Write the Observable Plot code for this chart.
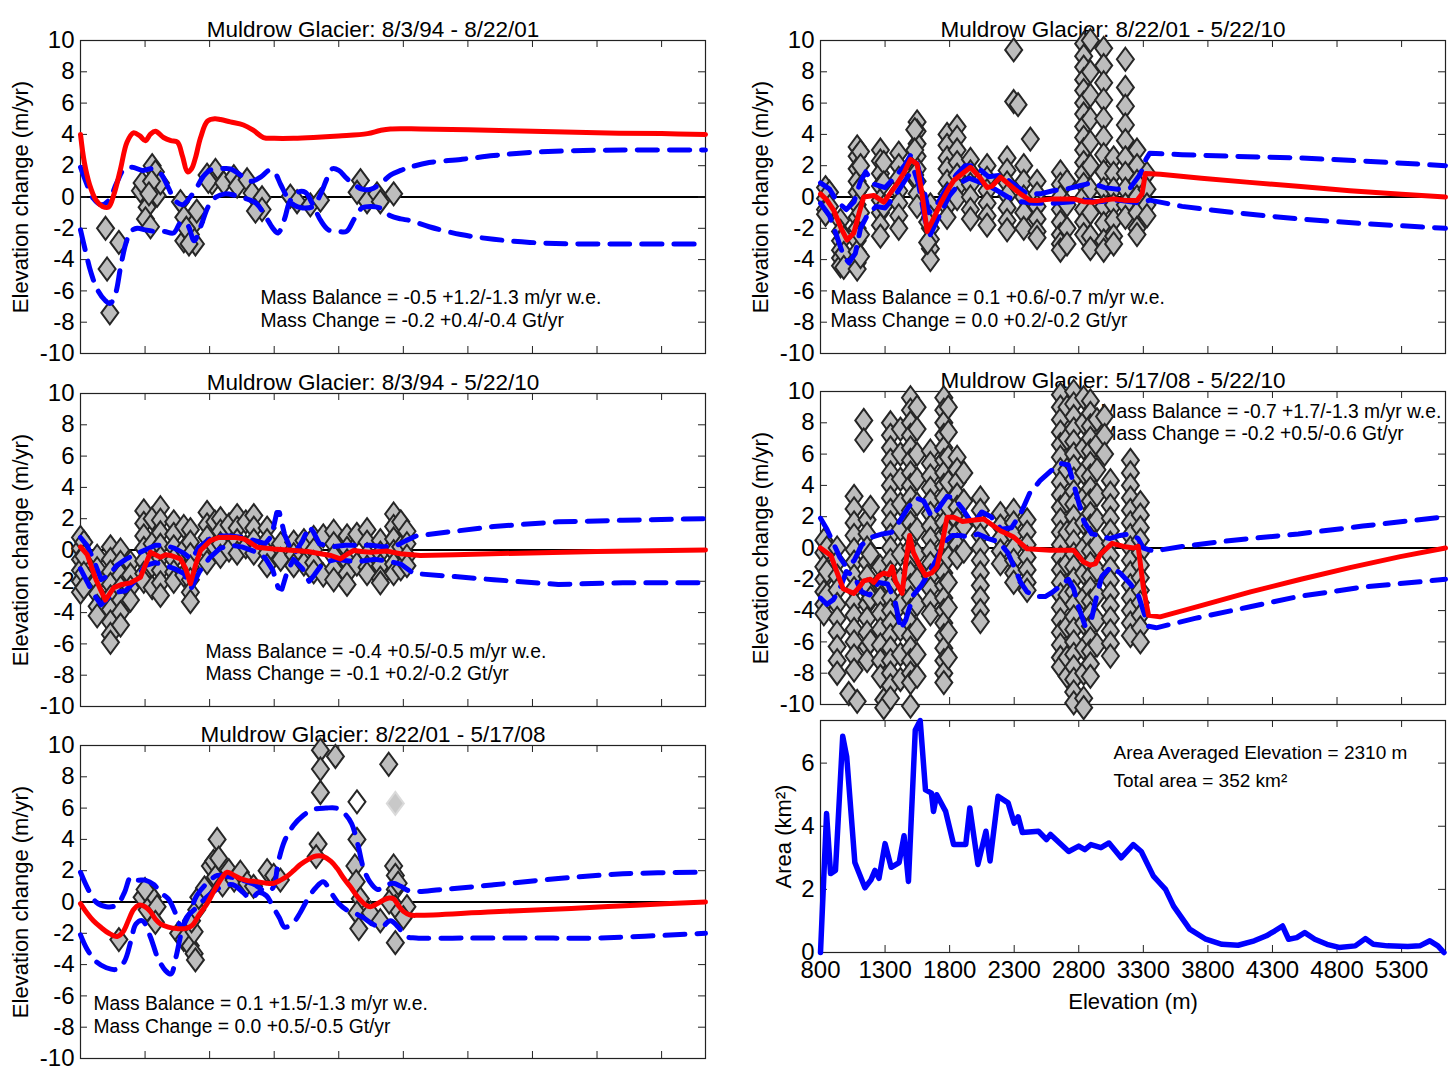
<!DOCTYPE html>
<html>
<head>
<meta charset="utf-8">
<script src="https://cdn.jsdelivr.net/npm/d3@7"></script>
<script src="https://cdn.jsdelivr.net/npm/@observablehq/plot@0.6"></script>
<style>
  html, body { margin: 0; padding: 0; background: #fff; overflow: hidden; }
  #fig { position: relative; width: 1456px; height: 1069px; }
  #fig svg { position: absolute; overflow: visible; }
</style>
</head>
<body>
<div id="fig"></div>
<script>
// ---------- axes ----------
const elevationTicks = [800, 1300, 1800, 2300, 2800, 3300, 3800, 4300, 4800, 5300];
const changeTicks = [-10, -8, -6, -4, -2, 0, 2, 4, 6, 8, 10];
const areaTicks = [0, 2, 4, 6];

// ---------- 8/3/94 - 8/22/01 ----------
const title1 = "Muldrow Glacier: 8/3/94 - 8/22/01";
const note1 = "Mass Balance = -0.5 +1.2/-1.3 m/yr w.e.\nMass Change = -0.2 +0.4/-0.4 Gt/yr";
const points1 = [[994,-2.0],[1097,-2.9],[1006,-4.6],[1027,-7.4],[1264,0.4],[1355,2.0],[1380,1.6],[1393,0.1],
  [1316,-0.65],[1303,-1.4],[1342,-1.9],[1277,0.9],[1419,0.9],[1350,1.0],[1330,0.2],[1574,-0.3],[1600,-1.3],
  [1690,-1.6],[1600,-2.8],[1690,-3.0],[1651,-2.4],[1620,-2.0],[1640,-3.0],[1700,-0.9],[1780,1.4],[1845,1.7],
  [1819,0.9],[1790,1.0],[1909,0.9],[1987,1.3],[2013,0.7],[2090,1.1],[2129,0.25],[2206,-0.05],[2206,-0.8],
  [2155,-0.9],[2425,0.05],[2477,-0.3],[2580,-0.5],[2658,-0.2],[2968,1.05],[2942,0.3],[3019,-0.3],[3096,0.2],
  [3122,-0.3],[3225,0.2]];
const mean1 = [[800,4.0],[830,2.2],[870,0.8],[920,-0.2],[970,-0.6],[1017,-0.65],[1060,0.2],[1110,1.8],[1160,3.5],
  [1210,4.1],[1260,3.9],[1303,3.6],[1340,4.0],[1380,4.2],[1443,3.8],[1500,3.6],[1551,3.5],[1590,2.6],[1629,1.6],
  [1660,1.8],[1690,2.5],[1730,3.8],[1783,4.85],[1840,5.0],[1884,4.95],[1960,4.8],[2062,4.6],[2140,4.25],
  [2217,3.8],[2300,3.75],[2450,3.75],[2604,3.8],[2800,3.9],[3022,4.05],[3120,4.25],[3200,4.35],[3432,4.35],
  [3800,4.3],[4300,4.2],[4800,4.1],[5300,4.05],[5640,4.0]];
const upper1 = [[800,1.9],[850,0.8],[900,-0.1],[960,-0.5],[1020,-0.2],[1080,0.9],[1140,1.8],[1200,1.9],[1280,1.7],
  [1350,1.8],[1420,1.5],[1480,0.6],[1530,-0.2],[1590,-0.5],[1650,0.0],[1700,0.6],[1750,1.3],[1800,1.7],[1880,1.8],
  [1960,1.8],[2040,1.4],[2120,1.0],[2200,1.3],[2260,1.7],[2300,1.6],[2350,0.8],[2400,0.0],[2450,-0.5],[2520,-0.7],
  [2600,-0.6],[2660,0.2],[2710,1.2],[2750,1.8],[2800,1.7],[2860,1.2],[2920,0.8],[2980,0.5],[3050,0.5],[3130,0.9],
  [3200,1.4],[3280,1.7],[3350,1.9],[3500,2.2],[3745,2.4],[4000,2.65],[4280,2.85],[4600,2.95],[5000,3.0],[5640,3.0]];
const lower1 = [[800,-2.1],[840,-3.5],[880,-4.8],[930,-5.9],[990,-6.6],[1030,-6.8],[1070,-6.2],[1110,-4.5],
  [1150,-3.0],[1190,-2.2],[1240,-2.0],[1300,-2.1],[1380,-2.2],[1450,-2.2],[1520,-2.3],[1580,-1.6],[1630,-1.8],
  [1680,-2.8],[1730,-1.9],[1790,-0.6],[1850,0.0],[1920,0.2],[2000,0.1],[2080,-0.1],[2160,-0.4],[2230,-1.2],
  [2290,-2.0],[2330,-2.3],[2380,-1.4],[2420,-0.3],[2480,0.3],[2540,0.3],[2600,-0.5],[2660,-1.5],[2720,-2.1],
  [2800,-2.2],[2860,-2.2],[2920,-1.4],[2980,-0.7],[3050,-0.6],[3120,-0.7],[3200,-1.2],[3280,-1.4],[3350,-1.5],
  [3500,-1.9],[3745,-2.4],[4000,-2.7],[4280,-2.9],[4600,-3.0],[5000,-3.0],[5640,-3.0]];

// ---------- 8/22/01 - 5/22/10 ----------
const title2 = "Muldrow Glacier: 8/22/01 - 5/22/10";
const note2 = "Mass Balance = 0.1 +0.6/-0.7 m/yr w.e.\nMass Change = 0.0 +0.2/-0.2 Gt/yr";
const columns2 = [
  [839,[0.6,-0.1,-0.8,-1.1]],[870,[0.3,-0.6]],[955,[-1.5,-2.2,-2.8,-3.4,-3.9,-4.4]],[980,[-2.6,-3.6,-4.5]],
  [1084,[3.2,2.6,1.8,1.0,0.3,-0.5,-1.3,-2.0,-2.8,-3.5,-4.2,-4.6]],[1110,[2.9,2.0,0.6,-1.0,-2.4,-3.8]],
  [1264,[3.0,2.3,1.5,0.7,-0.2,-1.0,-1.8,-2.5]],[1290,[2.2,0.9,-0.6]],[1406,[2.8,2.0,1.2,0.4,-0.4,-1.2,-2.0]],
  [1548,[4.8,4.2,3.4,2.6,1.8,1.0,0.2,-0.6]],[1530,[4.3,3.0,1.4]],[1651,[-0.5,-1.3,-2.0,-2.7,-3.3,-4.0]],
  [1630,[-1.6,-2.9]],[1780,[4.0,3.3,2.5,1.8,1.0,0.2,-0.6,-1.3]],[1858,[4.5,3.8,3.0,2.2,1.4,0.6,-0.1]],
  [1961,[2.4,1.6,0.8,0.0,-0.8,-1.4]],[2090,[2.0,1.2,0.4,-0.4,-1.2,-1.8]],[2245,[2.5,1.7,0.9,0.1,-0.7,-1.5,-2.1]],
  [2296,[9.4,6.1]],[2330,[5.9]],[2374,[2.0,1.0,0.0,-1.0,-2.0]],[2425,[3.7]],[2477,[1.0,0.2,-0.6,-1.4,-2.2,-2.6]],
  [2658,[1.6,0.8,0.0,-0.8,-1.6,-2.4,-3.0,-3.4]],[2709,[1.0,-0.5,-2.0,-3.0]],
  [2838,[9.8,9.0,8.3,7.5,6.8,6.0,5.3,4.5,3.8,3.0,2.2,1.5,0.8,0.0,-0.8,-1.6,-2.4]],
  [2890,[10.0,8.0,6.5,5.0,3.5,2.0,0.5,-1.0,-2.5,-3.3]],
  [2993,[9.5,8.4,7.3,6.2,5.0,3.8,2.7,1.6,0.5,-0.6,-1.7,-2.8,-3.4]],[3070,[2.5,1.5,0.5,-0.5,-1.5,-2.5,-3.0]],
  [3161,[8.8,7.0,5.8,4.6,3.6,2.5,1.5,0.5,-0.5,-1.3]],[3251,[3.0,2.0,1.0,0.0,-1.0,-2.0,-2.4]],[3328,[1.5,0.5,-0.5,-1.2]]
];
const mean2 = [[800,0.2],[850,-0.2],[903,-0.86],[960,-2.0],[1006,-2.75],[1058,-2.3],[1100,-1.0],[1135,0.0],[1213,0.1],
  [1290,-0.33],[1346,0.3],[1393,0.84],[1450,1.6],[1497,2.4],[1548,2.1],[1590,0.0],[1626,-2.2],[1680,-1.3],[1729,-0.43],
  [1790,0.5],[1832,1.05],[1900,1.5],[1961,1.9],[2030,1.3],[2090,0.6],[2130,0.7],[2193,1.27],[2260,0.8],[2348,0.2],
  [2420,-0.2],[2477,-0.22],[2606,-0.12],[2761,-0.12],[2838,-0.3],[2916,-0.33],[3000,-0.2],[3070,-0.12],[3150,-0.2],
  [3251,-0.22],[3290,0.2],[3316,1.5],[3432,1.45],[3750,1.2],[4100,0.95],[4520,0.67],[4900,0.4],[5300,0.18],[5640,0.0]];
const upper2 = [[800,0.9],[870,0.5],[930,-0.3],[1000,-0.8],[1060,-0.3],[1110,1.0],[1150,1.6],[1220,0.8],[1300,0.6],
  [1380,1.3],[1450,2.0],[1500,2.7],[1540,2.4],[1600,0.5],[1640,-1.0],[1700,-0.5],[1780,0.6],[1850,1.4],[1920,2.0],
  [2000,2.0],[2100,1.3],[2200,1.4],[2300,0.8],[2400,0.2],[2500,0.2],[2600,0.4],[2700,0.5],[2800,0.7],[2900,0.9],
  [3000,0.6],[3100,0.5],[3200,0.6],[3280,1.5],[3320,2.4],[3350,2.8],[3600,2.7],[4000,2.6],[4500,2.5],[5000,2.3],[5640,2.0]];
const lower2 = [[800,-0.4],[870,-1.2],[930,-2.6],[980,-3.8],[1020,-4.2],[1070,-3.6],[1110,-2.0],[1160,-1.2],[1230,-0.6],
  [1300,-0.7],[1380,0.1],[1450,1.0],[1520,1.8],[1560,0.8],[1610,-1.5],[1650,-2.4],[1720,-1.2],[1800,0.1],[1880,0.9],
  [1950,1.2],[2050,0.9],[2150,0.5],[2250,0.0],[2350,-0.3],[2450,-0.4],[2600,-0.4],[2750,-0.3],[2850,-0.2],[2950,-0.3],
  [3100,-0.2],[3200,-0.3],[3280,-0.4],[3350,-0.2],[3600,-0.6],[4000,-1.0],[4500,-1.4],[5000,-1.7],[5640,-2.0]];

// ---------- 8/3/94 - 5/22/10 ----------
const title3 = "Muldrow Glacier: 8/3/94 - 5/22/10";
const note3 = "Mass Balance = -0.4 +0.5/-0.5 m/yr w.e.\nMass Change = -0.1 +0.2/-0.2 Gt/yr";
const columns3 = [
  [800,[0.8,0.1,-0.6,-1.3,-2.0,-2.7]],[826,[0.5,-0.4,-1.5,-2.4]],[929,[-0.4,-1.2,-2.0,-2.8,-3.6,-4.2]],
  [1032,[0.2,-0.6,-1.4,-2.2,-3.0,-3.8,-4.6,-5.4,-5.9]],[1110,[0.0,-0.8,-1.6,-2.4,-3.2,-4.0,-4.8]],
  [1187,[-0.8,-1.6,-2.4,-3.2]],[1290,[2.5,1.7,0.9,0.1,-0.7,-1.5,-2.0]],[1355,[2.0,0.4,-1.0,-2.4]],
  [1419,[2.7,1.9,1.1,0.3,-0.5,-1.3,-2.1,-2.9]],[1522,[1.8,1.0,0.2,-0.6,-1.4,-2.0]],[1600,[1.5,0.0,-1.6]],
  [1651,[1.3,0.5,-0.3,-1.1,-1.9,-2.7,-3.3]],[1780,[2.4,1.6,0.8,0.0,-0.8]],[1840,[1.8,0.2]],[1884,[2.0,1.2,0.4,-0.4]],
  [1950,[1.6,0.0]],[2013,[2.2,1.4,0.6,-0.2]],[2080,[1.8,0.2]],[2142,[2.2,1.4,0.6,-0.2]],[2245,[1.4,0.6,-0.2,-1.0]],
  [2350,[0.4,-0.6]],[2451,[0.5,-0.3,-1.0]],[2530,[0.6,-0.9]],[2606,[0.8,0.0,-0.8,-1.4]],[2680,[0.9,-1.6]],
  [2761,[1.2,0.4,-0.4,-1.2,-1.9]],[2864,[0.9,0.1,-0.7,-1.5,-2.2]],[2940,[1.0,-0.9]],[3019,[1.3,0.5,-0.3,-1.1,-1.5]],
  [3122,[0.6,-0.2,-1.0,-1.8,-2.1]],[3225,[2.3,1.5,0.7,-0.1,-0.9,-1.5]],[3280,[1.8,0.2,-1.2]],[3328,[1.2,0.4,-0.4,-1.0]]
];
const mean3 = [[800,0.2],[852,-0.3],[920,-1.9],[993,-3.2],[1058,-2.4],[1120,-2.2],[1187,-2.1],[1264,-1.75],[1300,-1.0],
  [1342,-0.14],[1380,-0.3],[1419,-0.46],[1460,-0.3],[1497,-0.35],[1574,-0.57],[1615,-1.2],[1651,-2.16],[1690,-1.0],
  [1729,-0.03],[1806,0.6],[1870,0.8],[1935,0.82],[2000,0.8],[2064,0.71],[2120,0.45],[2167,0.18],[2296,0.07],
  [2451,-0.03],[2560,-0.1],[2658,-0.24],[2740,-0.35],[2812,-0.57],[2860,-0.3],[2916,-0.03],[2980,-0.1],[3045,-0.14],
  [3174,-0.07],[3277,-0.24],[3432,-0.35],[3700,-0.3],[4200,-0.2],[4800,-0.1],[5640,0.0]];
const upper3 = [[800,0.8],[850,0.3],[900,-0.6],[960,-1.9],[1020,-1.6],[1080,-1.0],[1150,-0.6],[1220,-0.3],[1300,0.0],
  [1380,0.3],[1460,0.3],[1530,0.1],[1600,-0.2],[1660,-0.6],[1720,0.2],[1800,0.7],[1880,0.9],[1960,0.9],[2050,0.8],
  [2150,0.6],[2230,0.4],[2280,0.9],[2320,2.4],[2340,2.4],[2380,1.0],[2420,0.2],[2460,-0.2],[2520,0.6],[2570,1.5],
  [2600,1.2],[2650,0.4],[2750,0.2],[2850,0.3],[2950,0.3],[3050,0.3],[3150,0.2],[3250,0.3],[3320,0.6],[3400,0.9],
  [3700,1.2],[4000,1.5],[4500,1.8],[5000,1.9],[5640,2.0]];
const lower3 = [[800,-1.2],[850,-2.0],[900,-2.8],[960,-3.5],[1020,-3.0],[1080,-2.7],[1150,-2.6],[1220,-2.0],[1300,-1.0],
  [1380,-0.8],[1460,-1.0],[1530,-1.2],[1600,-1.5],[1660,-2.4],[1720,-1.4],[1800,-0.5],[1880,0.1],[1960,0.3],[2050,0.2],
  [2150,-0.1],[2230,-0.5],[2290,-1.3],[2330,-2.4],[2360,-2.5],[2400,-1.4],[2450,-0.6],[2520,-1.2],[2570,-2.0],
  [2610,-1.6],[2680,-0.8],[2780,-0.6],[2880,-0.7],[2980,-0.7],[3080,-0.6],[3180,-0.7],[3280,-0.9],[3380,-1.5],
  [3700,-1.7],[4000,-1.9],[4500,-2.2],[5000,-2.1],[5640,-2.1]];

// ---------- 5/17/08 - 5/22/10 ----------
const title4 = "Muldrow Glacier: 5/17/08 - 5/22/10";
const note4 = "Mass Balance = -0.7 +1.7/-1.3 m/yr w.e.\nMass Change = -0.2 +0.5/-0.6 Gt/yr";
const columns4 = [
  [826,[0.5,-0.3,-1.2,-2.0,-2.8,-3.6,-4.2]],[850,[0.0,-1.5,-3.0]],
  [929,[0.0,-0.9,-1.8,-2.7,-3.6,-4.5,-5.4,-6.3,-7.2,-8.0]],[1019,[-9.3]],
  [1060,[3.3,2.5,1.6,0.8,-0.1,-0.9,-1.8,-2.6,-3.5,-4.3,-5.2,-6.0,-6.9,-7.8]],[1084,[-9.8]],[1135,[8.15,6.9]],
  [1161,[1.8,0.9,0.0,-0.9,-1.8,-2.7,-3.6,-4.5,-5.4,-6.3,-7.2]],[1187,[2.6,-0.4,-3.2,-6.0]],
  [1264,[-1.2,-2.2,-3.2,-4.2,-5.2,-6.2,-7.2,-8.2]],[1290,[-9.7,-10.2]],
  [1342,[8.0,7.2,6.4,5.6,4.8,4.0,3.2,2.4,1.6,0.8,0.0,-0.8,-1.6,-2.4,-3.2,-4.0,-4.8,-5.6,-6.4,-7.2,-8.0,-8.8,-9.6]],
  [1419,[7.6,6.0,4.4,2.8,1.2,-0.4,-2.0,-3.6,-5.2,-6.8,-8.4]],
  [1497,[9.6,8.8,8.0,7.2,6.4,5.6,4.8,4.0,3.2,2.4,1.6,0.8,0.0,-0.8,-1.6,-2.4,-3.2,-4.0,-4.8,-5.6,-6.4,-7.2,-8.0,-8.6,-10.1]],
  [1548,[9.0,7.6,6.0,4.4,2.8,1.2,-0.4,-2.0,-3.6,-5.2,-6.8,-8.2]],
  [1651,[6.2,5.4,4.6,3.8,3.0,2.2,1.4,0.6,-0.2,-1.0,-1.8,-2.6,-3.4,-4.2]],
  [1755,[9.6,8.8,8.0,7.2,6.4,5.6,4.8,4.0,3.2,2.4,1.6,0.8,0.0,-0.8,-1.6,-2.4,-3.2,-4.0,-4.8,-5.6,-6.4,-7.2,-8.0,-8.6]],
  [1790,[9.0,7.4,5.8,4.2,2.6,1.0,-0.6,-2.2,-3.8,-5.4,-7.0]],[1858,[5.8,5.0,4.2,3.4,2.6,1.8,1.0,0.2,-0.6]],
  [1910,[4.8,3.0,1.4,-0.2]],[2038,[3.2,2.4,1.6,0.8,0.0,-0.8,-1.6,-2.4,-3.2,-4.0,-4.7]],[2193,[2.2,1.4,0.6,-0.2,-1.0]],
  [2296,[2.4,1.6,0.8,0.0,-0.8,-1.6,-2.2]],[2400,[1.8,1.0,0.2,-0.6,-1.4,-2.2,-2.7]],
  [2658,[9.8,9.0,8.2,7.4,6.6,5.8,5.0,4.2,3.4,2.6,1.8,1.0,0.2,-0.6,-1.4,-2.2,-3.0,-3.8,-4.6,-5.4,-6.2,-7.0,-7.6]],
  [2709,[9.0,7.0,5.0,3.0,1.0,-1.0,-3.0,-5.0,-7.0,-8.2]],
  [2761,[10.0,9.2,8.4,7.6,6.8,6.0,5.2,4.4,3.6,2.8,2.0,1.2,0.4,-0.4,-1.2,-2.0,-2.8,-3.6,-4.4,-5.2,-6.0,-6.8,-7.6,-8.4,-9.2,-9.9]],
  [2838,[9.6,8.0,6.4,4.8,3.2,1.6,0.0,-1.6,-3.2,-4.8,-6.4,-8.0,-9.6,-10.2]],
  [2890,[9.4,8.6,7.8,7.0,6.2,5.4,4.6,3.8,3.0,2.2,1.4,0.6,-0.2,-1.0,-1.8,-2.6,-3.4,-4.2,-5.0,-5.8,-6.6,-7.4,-8.2]],
  [2941,[8.2,6.6,5.0,3.4,1.8,0.2,-1.4,-3.0,-4.6,-6.2]],[3000,[8.4,7.2,6.0]],
  [3045,[4.3,3.5,2.7,1.9,1.1,0.3,-0.5,-1.3,-2.1,-2.9,-3.7,-4.5,-5.3,-6.1,-6.9]],
  [3200,[5.6,4.8,4.0,3.2,2.4,1.6,0.8,0.0,-0.8,-1.6,-2.4,-3.2,-4.0,-4.8,-5.6]],
  [3277,[2.9,2.1,1.3,0.5,-0.3,-1.1,-1.9,-2.7,-3.5,-4.3,-5.1,-6.0]]
];
const mean4 = [[800,0],[850,-0.3],[882,-0.5],[930,-1.6],[975,-2.6],[1058,-2.9],[1100,-2.5],[1135,-2.1],[1187,-2.0],
  [1213,-2.2],[1250,-1.8],[1290,-1.6],[1330,-1.7],[1355,-1.2],[1380,-2.1],[1432,-2.9],[1460,-1.0],[1490,0.8],
  [1520,-0.3],[1561,-1.0],[1613,-1.75],[1660,-1.6],[1703,-1.2],[1740,0.2],[1780,1.97],[1832,1.97],[1900,1.7],
  [1961,1.75],[2064,1.85],[2193,1.1],[2296,0.7],[2400,-0.05],[2580,-0.15],[2761,-0.15],[2838,-0.9],[2890,-1.1],
  [2930,-1.0],[2967,-0.4],[3058,0.3],[3148,0.1],[3225,0.0],[3260,0.1],[3300,-2.5],[3340,-4.3],[3430,-4.4],
  [3740,-3.7],[4130,-2.8],[4520,-2.0],[4900,-1.25],[5290,-0.55],[5640,0]];
const upper4 = [[800,1.9],[850,1.2],[900,0.3],[950,-0.6],[1000,-1.2],[1060,-0.8],[1120,0.2],[1200,0.7],[1280,0.9],
  [1350,1.0],[1420,1.8],[1480,2.6],[1540,3.2],[1600,3.0],[1660,2.0],[1720,2.6],[1780,3.3],[1830,3.2],[1900,2.5],
  [1980,1.5],[2050,2.3],[2120,2.0],[2200,1.2],[2280,1.3],[2350,2.2],[2420,3.5],[2500,4.3],[2580,4.9],[2660,5.4],
  [2720,5.3],[2780,3.5],[2840,1.7],[2900,0.9],[2960,0.8],[3040,0.6],[3120,0.8],[3200,0.9],[3260,0.6],[3300,0.0],
  [3380,-0.2],[3600,0.1],[4000,0.5],[4500,0.9],[5000,1.4],[5640,2.0]];
const lower4 = [[800,-3.2],[850,-3.6],[900,-3.3],[960,-2.4],[1000,-1.5],[1060,-1.8],[1120,-2.8],[1180,-3.0],[1250,-2.2],
  [1320,-2.3],[1380,-3.5],[1420,-5.2],[1460,-4.6],[1520,-3.0],[1580,-2.4],[1640,-1.6],[1700,-0.7],[1760,0.4],
  [1820,0.8],[1880,0.8],[1950,0.7],[2020,0.9],[2100,0.6],[2180,0.4],[2250,-0.3],[2300,-1.2],[2350,-2.2],[2400,-2.8],
  [2460,-3.1],[2540,-3.1],[2600,-2.8],[2660,-2.4],[2720,-2.0],[2760,-2.6],[2800,-3.8],[2850,-5.0],[2900,-4.5],
  [2940,-3.0],[2980,-1.8],[3050,-1.2],[3120,-1.6],[3200,-2.3],[3260,-3.0],[3300,-4.0],[3340,-5.0],[3400,-5.1],
  [3700,-4.5],[4100,-3.8],[4500,-3.1],[5000,-2.5],[5640,-2.0]];

// ---------- 8/22/01 - 5/17/08 ----------
const title5 = "Muldrow Glacier: 8/22/01 - 5/17/08";
const note5 = "Mass Balance = 0.1 +1.5/-1.3 m/yr w.e.\nMass Change = 0.0 +0.5/-0.5 Gt/yr";
const points5 = [[1097,-2.4],[1277,0.3],[1355,0.3],[1316,-0.5],[1393,-0.3],[1380,-1.3],[1300,0.8],
  [1560,-2.0],[1600,-2.4],[1650,-2.8],[1680,-3.3],[1690,-3.7],[1680,-1.9],[1660,-1.2],[1700,-0.5],[1716,0.3],
  [1760,0.9],[1806,2.3],[1858,4.0],[1830,2.6],[1845,1.6],[1870,2.8],[1900,1.1],[1948,2.0],[1990,1.4],[2038,1.9],
  [2090,1.2],[2140,1.0],[2245,2.0],[2296,1.7],[2348,1.4],
  [2658,9.7],[2658,8.5],[2774,9.3],[2658,7.0],[2640,3.7],[2625,2.9],
  [3187,8.8],[2941,4.0],[2925,2.3],[2935,1.3],[2967,0.2],[2941,-0.7],[2955,-1.7],[3045,-0.7],[3122,-1.2],
  [3225,2.3],[3238,1.7],[3238,0.8],[3238,-0.3],[3238,-2.6],[3328,-0.3],[3300,-1.0],[3190,0.0],[3260,1.2]];
const hollow5 = [[2941,6.4]];
const faint5 = [[3238,6.3]];
const mean5 = [[800,-0.1],[850,-0.7],[900,-1.2],[955,-1.6],[1020,-2.0],[1084,-2.2],[1130,-1.9],[1170,-1.2],[1210,-0.5],
  [1252,-0.2],[1300,-0.3],[1340,-0.6],[1380,-1.1],[1419,-1.4],[1480,-1.6],[1548,-1.7],[1610,-1.7],[1664,-1.5],
  [1720,-0.8],[1780,-0.1],[1840,0.8],[1900,1.6],[1935,1.9],[1990,1.7],[2038,1.5],[2100,1.35],[2167,1.3],[2240,1.2],
  [2296,1.2],[2350,1.4],[2400,1.65],[2450,2.0],[2503,2.4],[2560,2.7],[2606,2.9],[2650,2.95],[2683,2.9],[2740,2.6],
  [2787,2.15],[2840,1.5],[2890,0.97],[2930,0.5],[2967,0.13],[3010,-0.2],[3045,-0.3],[3100,-0.1],[3148,0.13],
  [3190,0.25],[3225,0.2],[3260,-0.2],[3300,-0.6],[3354,-0.83],[3420,-0.85],[4000,-0.62],[4600,-0.42],[5100,-0.2],[5640,0.0]];
const upper5 = [[800,1.9],[860,0.8],[920,0.0],[1000,-0.3],[1080,-0.2],[1140,0.6],[1190,1.6],[1240,1.4],[1300,1.4],
  [1370,1.1],[1420,0.6],[1480,0.2],[1540,-0.8],[1580,-1.6],[1640,-0.8],[1700,0.4],[1780,1.2],[1860,1.7],[1960,1.6],
  [2050,1.4],[2150,1.1],[2230,0.7],[2290,0.9],[2330,2.5],[2380,3.9],[2450,4.9],[2520,5.5],[2600,5.9],[2700,6.0],
  [2780,6.0],[2850,5.6],[2900,5.0],[2950,3.6],[2990,2.2],[3040,1.3],[3100,0.8],[3150,1.0],[3220,1.2],[3280,1.0],
  [3350,0.7],[3600,0.8],[4000,1.1],[4500,1.5],[5000,1.8],[5640,1.9]];
const lower5 = [[800,-2.1],[850,-3.0],[920,-3.8],[1000,-4.2],[1080,-4.3],[1140,-3.8],[1190,-2.5],[1230,-1.4],[1280,-1.2],
  [1340,-2.2],[1400,-3.6],[1460,-4.4],[1500,-4.6],[1540,-3.5],[1580,-2.0],[1620,-1.0],[1680,-0.5],[1750,0.1],
  [1820,0.6],[1900,1.0],[1980,1.1],[2060,0.6],[2120,0.2],[2180,0.6],[2240,0.4],[2290,-0.3],[2340,-1.0],[2380,-1.6],
  [2440,-1.4],[2500,-0.7],[2560,0.2],[2620,0.9],[2680,1.3],[2740,0.6],[2800,-0.1],[2860,-0.5],[2920,-0.7],[2990,-1.0],
  [3060,-1.4],[3130,-1.6],[3200,-1.2],[3260,-1.6],[3320,-2.2],[3400,-2.3],[3800,-2.3],[4300,-2.3],[4800,-2.3],[5640,-2.0]];

// ---------- area-elevation distribution ----------
const areaNote = "Area Averaged Elevation = 2310 m\nTotal area = 352 km\u00B2";
const hypsometry = [[800,0],[847,4.4],[878,2.5],[916,2.6],[972,6.85],[1003,6.2],[1066,2.85],[1144,2.05],[1191,2.3],
  [1222,2.6],[1253,2.35],[1300,3.45],[1347,2.7],[1409,2.85],[1447,3.7],[1481,2.25],[1534,7.05],[1572,7.35],
  [1613,5.15],[1659,5.05],[1675,4.47],[1700,5.0],[1769,4.47],[1831,3.42],[1925,3.42],[1956,4.58],[2019,2.79],
  [2081,3.84],[2113,2.9],[2175,4.95],[2253,4.74],[2300,4.1],[2331,4.3],[2363,3.8],[2488,3.84],[2550,3.58],
  [2581,3.74],[2722,3.2],[2800,3.37],[2847,3.26],[2894,3.42],[2972,3.32],[3034,3.47],[3128,3.0],[3222,3.42],
  [3284,3.2],[3378,2.42],[3425,2.21],[3472,2.0],[3534,1.47],[3659,0.74],[3784,0.42],[3909,0.26],[4034,0.23],
  [4159,0.37],[4253,0.53],[4316,0.68],[4378,0.84],[4425,0.42],[4488,0.47],[4550,0.63],[4628,0.42],[4722,0.26],
  [4816,0.16],[4941,0.21],[5019,0.44],[5081,0.26],[5191,0.21],[5347,0.19],[5441,0.21],[5519,0.37],[5581,0.21],[5628,0.0]];

// ---------- drawing ----------
const FONT = "'Liberation Sans', Arial, Helvetica, sans-serif";
const X_DOMAIN = [800, 5640];
const INNER_W = 625;
const TICK = 7;

const fromColumns = cols => cols.flatMap(([e, vs]) => vs.map(v => [e, v]));

// MATLAB-style diamond marker, slightly taller than wide
const diamond = {
  draw(ctx, size) {
    const r = Math.sqrt(size / Math.PI);
    const w = r * 0.85, h = r * 1.15;
    ctx.moveTo(0, -h); ctx.lineTo(w, 0); ctx.lineTo(0, h); ctx.lineTo(-w, 0); ctx.closePath();
  }
};

// inward tick marks on all four sides of the box
function boxTicks(innerH, yValues) {
  return [
    Plot.ruleX(elevationTicks, {x: d => d, insetTop: innerH - TICK, stroke: "#222"}),
    Plot.ruleX(elevationTicks, {x: d => d, insetBottom: innerH - TICK, stroke: "#222"}),
    Plot.ruleY(yValues, {y: d => d, insetRight: INNER_W - TICK, stroke: "#222"}),
    Plot.ruleY(yValues, {y: d => d, insetLeft: INNER_W - TICK, stroke: "#222"})
  ];
}

const xy = {x: d => d[0], y: d => d[1]};

function changePanel({title, note, noteX, noteY, points, extra = [], mean, upper, lower, curve}) {
  const innerH = 313;
  return Plot.plot({
    width: 80 + INNER_W + 35, height: 40 + innerH + 10,
    marginLeft: 80, marginRight: 35, marginTop: 40, marginBottom: 10,
    x: {domain: X_DOMAIN, axis: null},
    y: {domain: [-10, 10], axis: null},
    style: {fontFamily: FONT, background: "transparent", overflow: "visible"},
    marks: [
      Plot.ruleY([0], {stroke: "black", strokeWidth: 2}),
      Plot.frame({stroke: "#222", strokeWidth: 1.2}),
      ...boxTicks(innerH, changeTicks),
      Plot.text(changeTicks, {y: d => d, text: d => String(d), frameAnchor: "left", textAnchor: "end", dx: -6, fontSize: 24, fill: "black"}),
      Plot.text(["Elevation change (m/yr)"], {text: d => d, frameAnchor: "left", textAnchor: "middle", rotate: -90, dx: -60, fontSize: 22, fill: "black"}),
      Plot.text([title], {text: d => d, frameAnchor: "top", textAnchor: "middle", dy: -19, dx: -20, fontSize: 22.5, fill: "black"}),
      Plot.text([note], {text: d => d, x: noteX, y: noteY, textAnchor: "start", lineHeight: 1.16, fontSize: 19.3, fill: "black"}),
      Plot.dot(points, {...xy, symbol: diamond, r: 10, fill: "#bdbdbd", stroke: "#262626", strokeWidth: 2}),
      ...extra,
      Plot.line(upper, {...xy, stroke: "#0000ff", strokeWidth: 5, strokeDasharray: "20,12", curve}),
      Plot.line(lower, {...xy, stroke: "#0000ff", strokeWidth: 5, strokeDasharray: "20,12", curve}),
      Plot.line(mean, {...xy, stroke: "#ff0000", strokeWidth: 5, curve})
    ]
  });
}

function areaPanel() {
  const innerH = 232;
  return Plot.plot({
    width: 80 + INNER_W + 35, height: 10 + innerH + 105,
    marginLeft: 80, marginRight: 35, marginTop: 10, marginBottom: 105,
    x: {domain: X_DOMAIN, axis: null},
    y: {domain: [0, 7.35], axis: null},
    style: {fontFamily: FONT, background: "transparent", overflow: "visible"},
    marks: [
      Plot.frame({stroke: "#222", strokeWidth: 1.2}),
      ...boxTicks(innerH, areaTicks),
      Plot.text(areaTicks, {y: d => d, text: d => String(d), frameAnchor: "left", textAnchor: "end", dx: -6, fontSize: 24, fill: "black"}),
      Plot.text(elevationTicks, {x: d => d, text: d => String(d), frameAnchor: "bottom", textAnchor: "middle", dy: 25, fontSize: 24, fill: "black"}),
      Plot.text(["Elevation (m)"], {text: d => d, frameAnchor: "bottom", textAnchor: "middle", dy: 56, fontSize: 22, fill: "black"}),
      Plot.text(["Area (km\u00B2)"], {text: d => d, frameAnchor: "left", textAnchor: "middle", rotate: -90, dx: -37, fontSize: 22, fill: "black"}),
      Plot.text([areaNote], {text: d => d, x: 3069, y: 5.97, textAnchor: "start", lineHeight: 1.45, fontSize: 19, fill: "black"}),
      Plot.line(hypsometry, {...xy, stroke: "#0000ff", strokeWidth: 5.5})
    ]
  });
}

const dotStyle = {...xy, symbol: diamond, r: 10, strokeWidth: 2};

const panels = [
  {left: 0, top: 0, node: changePanel({title: title1, note: note1, noteX: 2194, noteY: -7.12,
    points: points1, mean: mean1, upper: upper1, lower: lower1, curve: "catmull-rom"})},
  {left: 740, top: 0, node: changePanel({title: title2, note: note2, noteX: 877, noteY: -7.12,
    points: fromColumns(columns2), mean: mean2, upper: upper2, lower: lower2, curve: "linear"})},
  {left: 0, top: 353, node: changePanel({title: title3, note: note3, noteX: 1768, noteY: -7.16,
    points: fromColumns(columns3), mean: mean3, upper: upper3, lower: lower3, curve: "linear"})},
  {left: 740, top: 351, node: changePanel({title: title4, note: note4, noteX: 2968, noteY: 8.08,
    points: fromColumns(columns4), mean: mean4, upper: upper4, lower: lower4, curve: "linear"})},
  {left: 0, top: 705, node: changePanel({title: title5, note: note5, noteX: 901, noteY: -7.18,
    points: points5, mean: mean5, upper: upper5, lower: lower5, curve: "catmull-rom",
    extra: [
      Plot.dot(hollow5, {...dotStyle, fill: "white", stroke: "#262626"}),
      Plot.dot(faint5, {...dotStyle, fill: "#c8c8c8", stroke: "#dadada"})
    ]})},
  {left: 740, top: 710, node: areaPanel()}
];

const fig = document.getElementById("fig");
for (const {left, top, node} of panels) {
  node.style.left = left + "px";
  node.style.top = top + "px";
  fig.appendChild(node);
}
</script>
</body>
</html>
